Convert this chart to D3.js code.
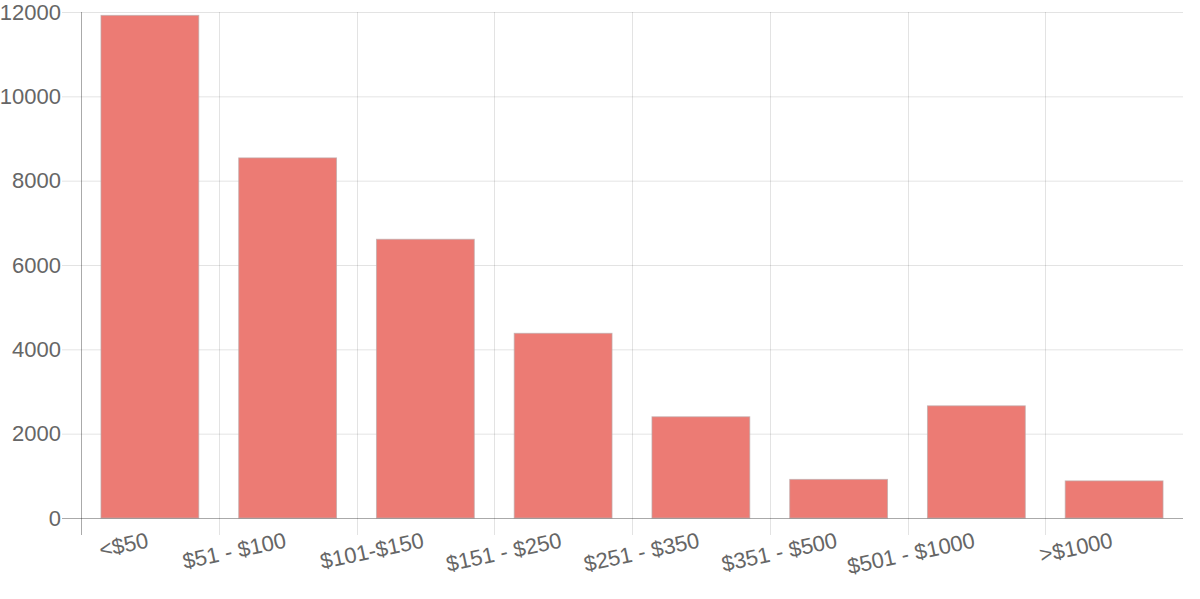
<!DOCTYPE html>
<html>
<head>
<meta charset="utf-8">
<script src="https://cdn.jsdelivr.net/npm/d3@7"></script>
<style>
  html, body { margin: 0; padding: 0; background: #fff; }
  svg { display: block; }
  text { font-family: "Liberation Sans", Arial, Helvetica, sans-serif; fill: #666; }
</style>
</head>
<body>
<svg id="chart" width="1200" height="599"></svg>
<script>
const categories = ["<$50", "$51 - $100", "$101-$150", "$151 - $250", "$251 - $350", "$351 - $500", "$501 - $1000", ">$1000"];
const values = [11920, 8540, 6610, 4380, 2400, 915, 2660, 880];
const yTicks = [0, 2000, 4000, 6000, 8000, 10000, 12000];

const svg = d3.select("#chart");
const mLeft = 81, mRight = 1183, mTop = 12, mBottom = 518;

const x = d3.scaleBand().domain(categories).range([mLeft, mRight]).paddingInner(0).paddingOuter(0);
const y = d3.scaleLinear().domain([0, 12000]).range([mBottom, mTop]);

// horizontal grid lines (with tick extension to the left)
svg.append("g").selectAll("line").data(yTicks).join("line")
  .attr("x1", mLeft - 19).attr("x2", mRight)
  .attr("y1", d => y(d) + 0.5).attr("y2", d => y(d) + 0.5)
  .attr("stroke", "rgba(0,0,0,0.11)").attr("stroke-width", 1);

// vertical grid lines at category boundaries (extend below axis)
const bounds = categories.map(c => x(c));
svg.append("g").selectAll("line").data(bounds).join("line")
  .attr("x1", d => Math.round(d) + 0.5).attr("x2", d => Math.round(d) + 0.5)
  .attr("y1", mTop).attr("y2", mBottom + 17)
  .attr("stroke", "rgba(0,0,0,0.11)").attr("stroke-width", 1);

// bars
const barW = x.bandwidth() * 0.71;
svg.append("g").selectAll("rect").data(values).join("rect")
  .attr("x", (d, i) => x(categories[i]) + (x.bandwidth() - barW) / 2)
  .attr("width", barW)
  .attr("y", d => y(d))
  .attr("height", d => y(0) - y(d))
  .attr("fill", "rgb(236,123,116)")
  .attr("stroke", "rgba(190,170,170,0.7)")
  .attr("stroke-width", 1);

// axis lines
svg.append("line").attr("x1", mLeft + 0.5).attr("x2", mLeft + 0.5).attr("y1", mTop).attr("y2", mBottom + 17)
  .attr("stroke", "rgba(0,0,0,0.25)").attr("stroke-width", 1);
svg.append("line").attr("x1", mLeft - 19).attr("x2", mRight).attr("y1", mBottom + 0.5).attr("y2", mBottom + 0.5)
  .attr("stroke", "rgba(0,0,0,0.25)").attr("stroke-width", 1);

// y tick labels
svg.append("g").selectAll("text").data(yTicks).join("text")
  .attr("x", mLeft - 20).attr("y", d => y(d))
  .attr("text-anchor", "end").attr("dominant-baseline", "central")
  .style("font-size", "22px")
  .text(d => d);

// x tick labels, rotated
svg.append("g").selectAll("text").data(categories).join("text")
  .attr("transform", c => `translate(${x(c) + x.bandwidth() / 2 - 4},${mBottom + 12}) rotate(-12)`)
  .attr("text-anchor", "end").attr("dy", "0.8em")
  .style("font-size", "22px")
  .text(c => c);
</script>
</body>
</html>
